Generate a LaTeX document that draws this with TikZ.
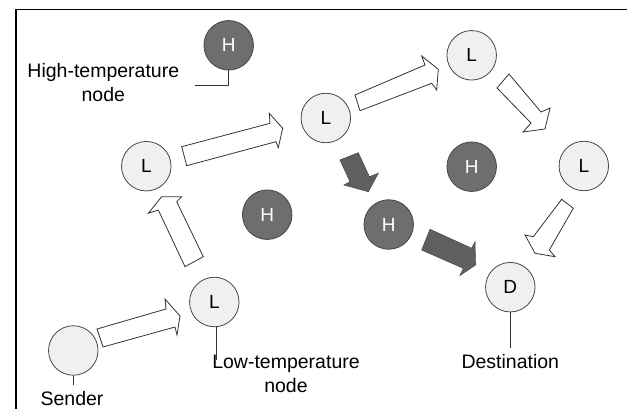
\documentclass[tikz,border=0pt]{standalone}
\usepackage{fontspec}
\setmainfont{Liberation Sans}
\definecolor{lfill}{RGB}{240,240,240}
\definecolor{hfill}{RGB}{110,110,110}
\definecolor{cedge}{RGB}{70,70,70}
\definecolor{darkarrow}{RGB}{95,95,95}
\begin{document}
\begin{tikzpicture}[x=1pt,y=-1pt,
  lnode/.style={circle,draw=cedge,line width=0.8pt,fill=lfill,minimum size=49.5pt,inner sep=0pt,
    font=\fontsize{19}{22}\selectfont,text=black},
  hnode/.style={circle,draw=cedge,line width=0.8pt,fill=hfill,minimum size=49.5pt,inner sep=0pt,
    font=\fontsize{19}{22}\selectfont,text=white},
  lbl/.style={align=center,font=\fontsize{19.5}{24}\selectfont,inner sep=0pt},
  lead/.style={line width=0.9pt,draw=black!80},
  blockarr/.style={draw=black!80,line width=0.8pt,fill=white,line join=miter},
  darkarr/.style={draw=black!70,line width=0.6pt,fill=darkarrow,line join=miter}]
\useasboundingbox (0,0) rectangle (627,409);
% frame
\draw[line width=1.3pt] (16,409) -- (16,9.3) -- (627,9.3);

% nodes
\node[hnode] (Htop) at (228.7,45.3) {H};
\node[lnode] (L1) at (146.3,166.2) {L};
\node[lnode] (Lmid) at (325.8,118) {L};
\node[lnode] (Ltr) at (471.7,55.3) {L};
\node[hnode] (Hmr) at (471.7,166.7) {H};
\node[lnode] (Lr) at (583.8,166) {L};
\node[hnode] (Hleft) at (267.2,214.7) {H};
\node[hnode] (Hmid) at (388.7,224.5) {H};
\node[lnode] (D) at (510.3,287.2) {D};
\node[lnode] (Llow) at (214.3,302) {L};
\node[lnode] (Sender) at (73.3,350.5) {};

% labels
\node[lbl] (hightxt) at (103.3,82.5) {High-temperature\\node};
\node[lbl] (lowtxt) at (286,373.5) {Low-temperature\\node};
\node[lbl] (sendtxt) at (72,398.3) {Sender};
\node[lbl] (desttxt) at (510.3,361.7) {Destination};

% leaders
\coordinate (hlead) at (195,85);
\draw[lead] (Htop.south) |- (hlead);
\coordinate (slead) at (73.3,385);
\draw[lead] (Sender.south) -- (slead);
\coordinate (dlead) at (510.3,348.3);
\draw[lead] (D.south) -- (dlead);
\coordinate (llead) at (216.5,360);
\draw[lead] (llead |- Llow.south) -- (llead);

% block arrows (white)
\draw[blockarr] (97,329) -- (166,309) -- (165,299) -- (180,316) -- (177,335) -- (175,327) -- (103,347) -- cycle;
\draw[blockarr] (185,266.7) -- (158.3,210) -- (148.3,213.3) -- (161.7,196.7) -- (181.7,196.7) -- (176.7,201.7) -- (203.3,256.7) -- cycle;
\draw[blockarr] (181.7,146.7) -- (270,123.3) -- (269.3,113.3) -- (282.7,128.3) -- (278.3,147.7) -- (276,141.7) -- (186.7,165.7) -- cycle;
\draw[blockarr] (355,95) -- (425,65) -- (421.7,56) -- (438.3,69.3) -- (436.7,90) -- (431.7,83.3) -- (360,110.7) -- cycle;
\draw[blockarr] (509,74) -- (541,112) -- (550,108) -- (545,129) -- (523,132) -- (531,123) -- (497,88) -- cycle;
\draw[blockarr] (573.3,208.3) -- (549.3,250) -- (555,256.7) -- (535,253.3) -- (525,235) -- (533.3,236.7) -- (561.7,199.3) -- cycle;

% dark arrows
\draw[darkarr] (340,160) -- (350,181.7) -- (344,185) -- (368.3,191.7) -- (378.3,173.3) -- (369.3,176.7) -- (358.3,152.7) -- cycle;
\draw[darkarr] (430,229.3) -- (471.7,248.3) -- (475,241.7) -- (475.5,265) -- (460,275.5) -- (463.3,268.3) -- (421.7,250) -- cycle;
\end{tikzpicture}
\end{document}
